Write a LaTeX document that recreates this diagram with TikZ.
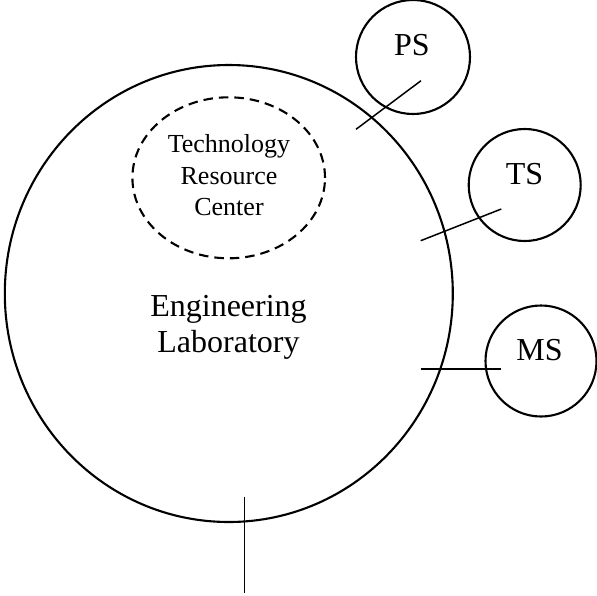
\documentclass[tikz,border=0pt]{standalone}
\usepackage{fontspec}
\setmainfont{Liberation Serif}
\usetikzlibrary{shapes.geometric}
\begin{document}
\begin{tikzpicture}[x=1pt,y=-1pt,
  outline/.style={draw, line width=2.1pt, inner sep=0pt, outer sep=0pt},
  ring/.style={outline, circle, minimum size=#1},
  oval/.style={outline, ellipse},
  link/.style={line width=1.5pt},
  small/.style={anchor=base, inner sep=0pt, font=\fontsize{26}{31}\selectfont},
  big/.style={anchor=base, inner sep=0pt, font=\fontsize{32}{36}\selectfont}]
\useasboundingbox (0,0) rectangle (597,595);

% main ellipse
\node[oval, minimum width=448pt, minimum height=457pt] (lab) at (228.8,293.5) {};
\node[oval, dashed, dash pattern=on 9.5pt off 6pt, minimum width=192.6pt, minimum height=161pt] (trc) at (228.7,177.8) {};

% satellites
\node[ring=114pt] (ps) at (413,57) {};
\node[ring=112pt] (ts) at (524.7,185) {};
\node[ring=111pt] (ms) at (541,361) {};

% labels
\node[small] (t1) at (229,152.7) {Technology};
\node[small] (t2) at (229,184.3) {Resource};
\node[small] (t3) at (229,215) {Center};
\node[big] (e1) at (228.5,316.7) {Engineering};
\node[big] (e2) at (228.5,352.8) {Laboratory};
\node[big] (pst) at (412,55) {PS};
\node[big] (tst) at (524.5,184) {TS};
\node[big] (mst) at (539.5,360) {MS};

% connectors
\coordinate (psa) at (356,129.3);
\coordinate (psb) at (421,80.7);
\coordinate (tsa) at (420.7,240.7);
\coordinate (tsb) at (501.3,209);
\coordinate (msa) at (420.7,369);
\coordinate (msb) at (501.3,369);
\coordinate (bta) at (244.3,496.7);
\coordinate (btb) at (244.3,593);
\draw[link] (psa) -- (psb);
\draw[link] (tsa) -- (tsb);
\draw[link] (msa) -- (msb);
\draw[link] (bta) -- (btb);
\end{tikzpicture}
\end{document}
